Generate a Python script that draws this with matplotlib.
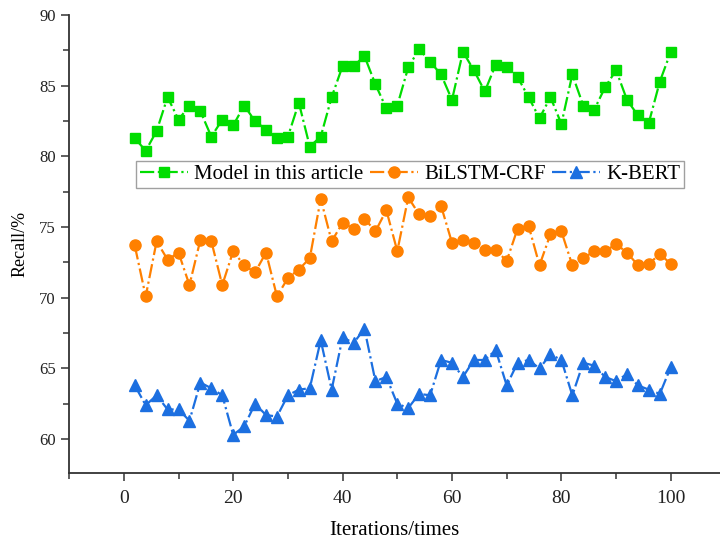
import matplotlib
matplotlib.use('Agg')

import numpy as np
import matplotlib.pyplot as plt
from matplotlib.ticker import MultipleLocator

# ==========================================
# DATA
# ==========================================
iterations = list(range(2, 101, 2))

recall_model = [81.3, 80.4, 81.8, 84.2, 82.6, 83.6, 83.2, 81.4, 82.6, 82.2,
                83.6, 82.5, 81.9, 81.3, 81.4, 83.8, 80.7, 81.4, 84.2, 86.4,
                86.4, 87.1, 85.1, 83.4, 83.6, 86.3, 87.6, 86.7, 85.8, 84.0,
                87.4, 86.1, 84.6, 86.5, 86.3, 85.6, 84.2, 82.7, 84.2, 82.3,
                85.8, 83.6, 83.3, 84.9, 86.1, 84.0, 82.9, 82.4, 85.3, 87.4]

recall_bilstm = [73.7, 70.1, 74.0, 72.7, 73.2, 70.9, 74.1, 74.0, 70.9, 73.3,
                 72.3, 71.8, 73.2, 70.1, 71.4, 72.0, 72.8, 77.0, 74.0, 75.3,
                 74.9, 75.6, 74.7, 76.2, 73.3, 77.1, 75.9, 75.8, 76.5, 73.9,
                 74.1, 73.9, 73.4, 73.4, 72.6, 74.9, 75.1, 72.3, 74.5, 74.7,
                 72.3, 72.8, 73.3, 73.3, 73.8, 73.2, 72.3, 72.4, 73.1, 72.4]

recall_kbert = [63.8, 62.4, 63.1, 62.1, 62.1, 61.3, 64.0, 63.6, 63.1, 60.3,
                60.9, 62.5, 61.7, 61.6, 63.1, 63.5, 63.6, 67.0, 63.5, 67.2,
                66.8, 67.8, 64.1, 64.4, 62.5, 62.2, 63.2, 63.1, 65.6, 65.4,
                64.4, 65.6, 65.6, 66.3, 63.8, 65.4, 65.6, 65.0, 66.0, 65.6,
                63.1, 65.4, 65.2, 64.4, 64.1, 64.6, 63.8, 63.5, 63.2, 65.1]

labels = ['Model in this article', 'BiLSTM-CRF', 'K-BERT']

# ==========================================
# PLOT
# ==========================================
plt.rcParams['font.family'] = ['Liberation Serif', 'DejaVu Serif']

fig = plt.figure(figsize=(7.2, 5.4), dpi=100)
ax = fig.add_axes([0.096, 0.124, 0.904, 0.848])

ax.plot(iterations, recall_model, linestyle='-.', color='#00DD00', lw=1.6,
        marker='s', markersize=7, label=labels[0])
ax.plot(iterations, recall_bilstm, linestyle='-.', color='#FF8000', lw=1.6,
        marker='o', markersize=8, label=labels[1])
ax.plot(iterations, recall_kbert, linestyle='-.', color='#1C6FE0', lw=1.6,
        marker='^', markersize=8, label=labels[2])

ax.set_xlim(-10, 109)
ax.set_ylim(57.6, 90)
ax.xaxis.set_major_locator(MultipleLocator(20))
ax.xaxis.set_minor_locator(MultipleLocator(10))
ax.yaxis.set_major_locator(MultipleLocator(5))
ax.yaxis.set_minor_locator(MultipleLocator(2.5))

ax.spines['top'].set_visible(False)
ax.spines['right'].set_visible(False)
for s in ['left', 'bottom']:
    ax.spines[s].set_linewidth(1.3)
    ax.spines[s].set_color('#333333')

ax.tick_params(which='both', direction='out', width=1.1, colors='#333333',
               labelcolor='#222222')
ax.tick_params(which='major', length=6)
ax.tick_params(which='minor', length=4)
ax.tick_params(axis='x', labelsize=14, pad=6)
ax.tick_params(axis='y', labelsize=12)

ax.set_xlabel('Iterations/times', fontsize=15, labelpad=10)
ax.set_ylabel('Recall/%', fontsize=13, labelpad=8)

leg = ax.legend(loc='center', bbox_to_anchor=(0.524, 0.652), ncol=3,
                fontsize=15, frameon=True, fancybox=False, handlelength=2.3,
                handletextpad=0.3, columnspacing=0.3, borderpad=0.2,
                borderaxespad=0)
leg.get_frame().set_edgecolor('#888888')
leg.get_frame().set_linewidth(1.0)

fig.savefig('out.png', dpi=100)
